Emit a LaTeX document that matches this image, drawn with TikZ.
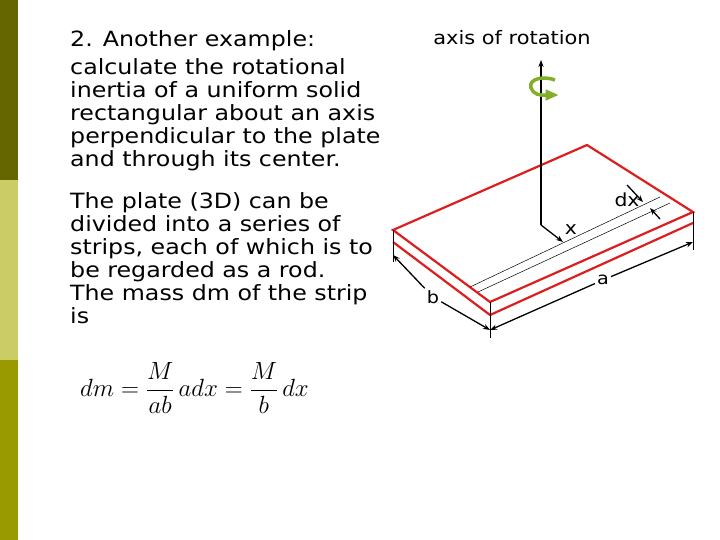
\documentclass[tikz,border=0pt]{standalone}
\usepackage{fontspec}
\setmainfont{DejaVu Sans}[FakeStretch=1.13]
\usepackage{amsmath}
\usetikzlibrary{arrows.meta}
\begin{document}
\begin{tikzpicture}[x=1pt,y=-1pt,
  txt/.style={anchor=north west,align=left,font=\fontsize{21}{23}\selectfont,inner sep=0},
  red/.style={draw={rgb,255:red,220;green,30;blue,30},line width=2.2pt},
  thin/.style={draw=black,line width=0.5pt},
  dim/.style={draw=black,line width=1.3pt,-{Stealth[length=7pt]}}]
\useasboundingbox (0,0) rectangle (720,540);
\fill[fill={rgb,255:red,102;green,102;blue,0}] (0,0) rectangle (18,180);
\fill[fill={rgb,255:red,204;green,204;blue,102}] (0,180) rectangle (18,360);
\fill[fill={rgb,255:red,153;green,153;blue,0}] (0,360) rectangle (18,540);
\node[txt] (t0) at (70,30) {2. Another example:};
\node[txt] (t1) at (70,58) {calculate the rotational\\ inertia of a uniform solid\\ rectangular about an axis\\ perpendicular to the plate\\ and through its center.};
\node[txt] (t2) at (70,192) {The plate (3D) can be\\ divided into a series of\\ strips, each of which is to\\ be regarded as a rod.\\ The mass dm of the strip\\ is};
\node[anchor=west,inner sep=0] (eq) at (80,388) {\fontsize{26}{30}\selectfont$\displaystyle dm=\frac{M}{ab}\,adx=\frac{M}{b}\,dx$};
\node[anchor=north,font=\fontsize{18.5}{20}\selectfont,inner sep=0] (lab) at (512,30) {axis of rotation};
% plate
\coordinate (L) at (393,230); \coordinate (F) at (490,302);
\coordinate (R) at (693,212); \coordinate (B) at (587,145);
\coordinate (L2) at (393,242); \coordinate (F2) at (490,315); \coordinate (R2) at (693,223);
\draw[red,line join=miter] (L) -- (F) -- (R) -- (B) -- cycle;
\draw[red] (L2) -- (F2) -- (R2);
\draw[thin] (L) -- (L2) (F) -- (F2) (R) -- (R2);
% strip
\coordinate (s1) at (470,287); \coordinate (s2) at (660,197);
\coordinate (s3) at (478,292); \coordinate (s4) at (670,203);
\draw[thin] (s1) -- (s2) (s3) -- (s4);
% axis
\coordinate (ctop) at (541,60); \coordinate (c) at (541,225); \coordinate (xe) at (563,242);
\draw[line width=1.3pt,-{Stealth[length=7pt]}] (c) -- (ctop);
\draw[dim] (c) -- (xe);
\node[font=\fontsize{18}{20}\selectfont,inner sep=0] (xl) at (571,230) {x};
% dx
\coordinate (d1) at (627,185); \coordinate (d2) at (643,202);
\coordinate (d3) at (660,219); \coordinate (d4) at (650,208);
\draw[dim] (d1) -- (d2);
\draw[dim] (d3) -- (d4);
\node[font=\fontsize{18}{20}\selectfont,inner sep=0] (dxl) at (627,200) {dx};
% dims
\coordinate (bt1) at (393,262); \coordinate (bt2) at (490,338); \coordinate (at) at (693,250);
\draw[thin] (L2) -- (bt1) (F2) -- (bt2) (R2) -- (at);
\node[font=\fontsize{17}{19}\selectfont,inner sep=2pt] (bl) at (433,297) {b};
\node[font=\fontsize{17}{19}\selectfont,inner sep=2pt] (al) at (603,280) {a};
\coordinate (bs) at (393,255); \coordinate (be) at (490,330); \coordinate (ae) at (693,242);
\draw[dim] (bl) -- (bs); \draw[dim] (bl) -- (be);
\draw[dim] (al) -- (be); \draw[dim] (al) -- (ae);
% rotation arrow
\definecolor{gr}{RGB}{130,175,40}
\draw[gr,line width=3.5pt] (555,80) .. controls (545,76) and (528,78) .. (531,88)
   .. controls (533,94) and (540,96) .. (547,95);
\draw[gr,line width=1pt,fill=gr] (546,90) -- (557,95) -- (546,100) -- cycle;
\end{tikzpicture}
\end{document}
